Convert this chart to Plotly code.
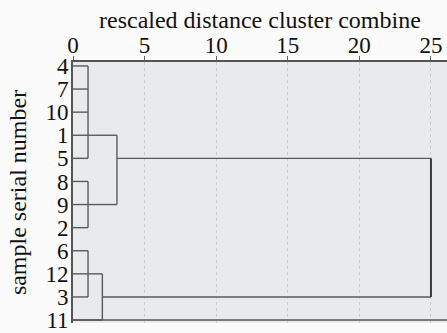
import plotly.graph_objects as go

# ---- data ----
leaves = ["4", "7", "10", "1", "5", "8", "9", "2", "6", "12", "3", "11"]
merge_ids = ["A", "B", "C", "D", "E", "F"]
merge_members = [["4", "7", "10", "1", "5"], ["8", "9", "2"], ["6", "12", "3"],
                 ["C", "11"], ["A", "B"], ["E", "D"]]
merge_distance = [1.05, 1.05, 1.05, 2.05, 3.07, 25.0]
merge_anchor = ["1", "9", "12", "3", "5", "5"]
x_ticks = [0, 5, 10, 15, 20, 25]
x_title = "rescaled distance cluster combine"
y_title = "sample serial number"

# ---- build dendrogram segments ----
row = {name: i for i, name in enumerate(leaves)}
dist = {name: 0.0 for name in leaves}
xs, ys = [], []
final_x, final_y = [], []
for mid, members, d, anchor in zip(merge_ids, merge_members, merge_distance, merge_anchor):
    rows = [row[m] for m in members]
    tx, ty = (final_x, final_y) if mid == merge_ids[-1] else (xs, ys)
    for m in members:
        xs.extend([dist[m], d, None])
        ys.extend([row[m], row[m], None])
    tx.extend([d, d, None])
    ty.extend([min(rows), max(rows), None])
    row[mid] = row[anchor]
    dist[mid] = d

fig = go.Figure()
fig.add_trace(go.Scatter(x=xs, y=ys, mode="lines",
                         line=dict(color="#5a5a5a", width=1.4),
                         hoverinfo="skip", showlegend=False))
fig.add_trace(go.Scatter(x=final_x, y=final_y, mode="lines",
                         line=dict(color="#3c3c3c", width=2),
                         hoverinfo="skip", showlegend=False))

n = len(leaves)
fig.add_shape(type="line", xref="paper", x0=0, x1=1, y0=n - 1, y1=n - 1,
              line=dict(color="#555555", width=1.6))

font = "Liberation Serif"
fig.add_annotation(text=x_title, xref="paper", yref="paper", x=0.5, y=1,
                   xanchor="center", yanchor="bottom", yshift=28, showarrow=False,
                   borderpad=0,
                   font=dict(size=24, family=font, color="#111111"))

fig.update_layout(
    width=447, height=333,
    margin=dict(l=73, r=0, t=62, b=7),
    paper_bgcolor="#fbfbfb",
    plot_bgcolor="#e8eaeb",
    font=dict(family=font, color="#111111"),
    showlegend=False,
    xaxis=dict(
        side="top", range=[0, 26.12], tickvals=x_ticks,
        ticktext=[str(t) for t in x_ticks],
        tickfont=dict(size=23, family=font, color="#111111"),
        ticks="outside", ticklen=4, tickcolor="#666666",
        showline=True, linecolor="#555555", linewidth=1.6,
        showgrid=True, gridcolor="#cacccd", griddash="dot", gridwidth=1,
        zeroline=False, ticklabeloverflow="allow", ticklabelstandoff=-6,
    ),
    yaxis=dict(
        range=[n - 1 + 0.128, -0.171],
        tickvals=list(range(n)), ticktext=leaves,
        tickfont=dict(size=23, family=font, color="#111111"),
        ticks="", showline=True, linecolor="#555555", linewidth=1.6,
        showgrid=False, zeroline=False, ticklabeloverflow="allow",
        ticklabelstandoff=-2,
        title=dict(text=y_title,
                   font=dict(size=24, family=font, color="#111111"), standoff=12),
    ),
)

fig.write_html("out.html")
